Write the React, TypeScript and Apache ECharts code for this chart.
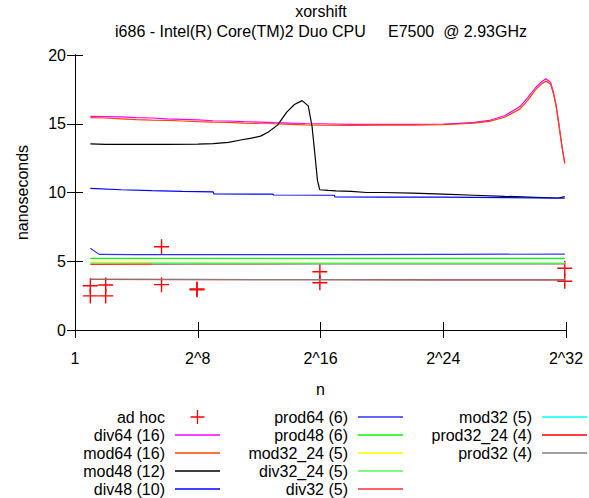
import React, { useEffect, useRef } from "react";
import * as echarts from "echarts";

const FONT = "'Liberation Sans', Arial, Helvetica, sans-serif";

const titleText = "xorshift";
const subtitleText = "i686 - Intel(R) Core(TM)2 Duo CPU     E7500  @ 2.93GHz";
const xTickExponents = [0, 8, 16, 24, 32];
const yTicks = [0, 5, 10, 15, 20];

// x values are log2(n)
const adHoc: number[][] = [
  [1, 3.22], [1, 2.48], [2, 3.27], [2, 2.48], [5.64, 6.06], [5.64, 3.3],
  [7.95, 2.98], [7.95, 2.92], [15.96, 4.24], [15.96, 3.44], [31.92, 4.49], [31.92, 3.54],
];
const div64: number[][] = [
  [1, 15.54], [2, 15.52], [3, 15.5], [4, 15.45], [5, 15.42], [6, 15.36], [7, 15.32], [8, 15.28],
  [9, 15.22], [10, 15.2], [11, 15.15], [12, 15.12], [13, 15.08], [14, 15.05], [15, 15.02], [16, 15.0],
  [18, 14.96], [20, 14.95], [22, 14.96], [24, 14.98], [25, 15.03], [26, 15.1], [27, 15.24], [28, 15.58],
  [29, 16.25], [29.5, 16.9], [30, 17.6], [30.4, 18.05], [30.7, 18.27], [31.0, 18.0], [31.2, 17.2],
  [31.35, 16.4], [31.53, 15.05], [31.74, 13.35], [31.92, 12.15],
];
const mod64: number[][] = [
  [1, 15.45], [2, 15.42], [3, 15.36], [4, 15.3], [5, 15.26], [6, 15.24], [7, 15.2], [8, 15.15],
  [9, 15.12], [10, 15.1], [11, 15.05], [12, 15.02], [13, 15.0], [14, 14.95], [15, 14.92], [16, 14.9],
  [18, 14.88], [20, 14.9], [22, 14.9], [24, 14.94], [25, 14.98], [26, 15.04], [27, 15.17], [28, 15.47],
  [29, 16.08], [29.5, 16.7], [30, 17.45], [30.4, 17.9], [30.7, 18.1], [31.0, 17.88], [31.2, 17.1],
  [31.35, 16.3], [31.53, 14.95], [31.74, 13.3], [31.92, 12.1],
];
const mod48: number[][] = [
  [1, 13.53], [2, 13.5], [4, 13.5], [6, 13.5], [8, 13.52], [9, 13.55], [10, 13.65], [10.8, 13.82],
  [11.5, 13.95], [12.1, 14.1], [12.6, 14.4], [13.2, 14.9], [13.8, 15.85], [14.3, 16.4], [14.8, 16.68],
  [15.2, 16.3], [15.45, 14.8], [15.65, 12.6], [15.8, 10.9], [15.95, 10.2], [16.5, 10.15], [17, 10.12],
  [18, 10.08], [19, 10.0], [20, 10.0], [22, 9.95], [24, 9.88], [26, 9.8], [28, 9.72], [30, 9.65],
  [31.5, 9.6], [31.92, 9.7],
];
const div48: number[][] = [
  [1, 10.3], [3, 10.2], [5, 10.13], [7, 10.08], [9, 10.05], [9.05, 9.9], [12.9, 9.88], [12.95, 9.82],
  [16.9, 9.8], [16.95, 9.68], [20, 9.67], [24, 9.66], [28, 9.63], [31.92, 9.58],
];
const prod64: number[][] = [
  [1, 5.94], [1.58, 5.5], [4, 5.48], [8, 5.48], [16, 5.48], [24, 5.5], [31.92, 5.52],
];
const prod48: number[][] = [[1, 5.21], [8, 5.21], [16, 5.21], [24, 5.21], [31.92, 5.21]];
const mod32_24: number[][] = [[1, 4.93], [8, 4.92], [16, 4.91], [24, 4.9], [31.92, 4.9]];
const div32_24: number[][] = [[1, 4.87], [8, 4.86], [16, 4.85], [24, 4.85], [31.92, 4.84]];
const div32: number[][] = [[1, 4.78], [8, 4.79], [16, 4.8], [24, 4.8], [31.92, 4.8]];
const mod32: number[][] = [[5, 4.82], [8, 4.82], [16, 4.82], [24, 4.82], [31.92, 4.82]];
const prod32_24: number[][] = [[1, 3.68], [8, 3.67], [16, 3.66], [24, 3.65], [31.92, 3.65]];
const prod32: number[][] = [[1, 3.69], [8, 3.68], [16, 3.66], [24, 3.65], [31.92, 3.64]];

const CROSS = "path://M0,7.25h16v1.5h-16z M7.25,0h1.5v16h-1.5z";
const LINE_ICON = "path://M0,0H45V1.3H0Z";

function lineSeries(name: string, color: string, data: number[][], width = 1.2) {
  return {
    type: "line",
    name,
    data,
    symbol: "none",
    showSymbol: false,
    lineStyle: { color, width },
    itemStyle: { color },
    emphasis: { disabled: true },
  };
}

const li = (name: string) => ({ name, icon: LINE_ICON });

export default function App() {
  const ref = useRef<HTMLDivElement>(null);
  useEffect(() => {
    if (!ref.current) return;
    const chart = echarts.init(ref.current, null, { renderer: "svg" });
    const axisLine = { show: true, lineStyle: { color: "#000", width: 1 } };
    const label = { fontSize: 16, color: "#000", fontFamily: FONT };
    const legendBase = {
      orient: "vertical",
      align: "right",
      top: 409,
      padding: 0,
      itemWidth: 45,
      itemHeight: 14,
      itemGap: 2,
      selectedMode: false,
      symbolKeepAspect: true,
      textStyle: { fontSize: 16, color: "#000", fontFamily: FONT, padding: [0, 5, 0, 0] },
    };
    const option = {
      animation: false,
      backgroundColor: "#fff",
      textStyle: { fontFamily: FONT },
      graphic: [
        { type: "text", x: 321, y: 11, style: { text: titleText, font: `16px ${FONT}`, fill: "#000", align: "center", verticalAlign: "middle" } },
        { type: "text", x: 321, y: 31, style: { text: subtitleText, font: `16px ${FONT}`, fill: "#000", align: "center", verticalAlign: "middle" } },
      ],
      grid: { left: 75, right: 23, top: 55, bottom: 168, containLabel: false },
      xAxis: [
        {
          type: "value", min: 0, max: 32, interval: 8, position: "bottom",
          axisLine, axisTick: { show: true, inside: false, length: 8, lineStyle: { color: "#000" } },
          splitLine: { show: false },
          axisLabel: { ...label, margin: 20, showMinLabel: true, showMaxLabel: true,
            formatter: (v: number) => (xTickExponents.includes(v) ? (v === 0 ? "1" : "2^" + v) : "") },
          name: "n", nameLocation: "middle", nameGap: 51, nameTextStyle: label,
        },
        {
          type: "value", min: 0, max: 32, interval: 8, position: "top",
          axisLine, axisTick: { show: true, inside: false, length: 8, lineStyle: { color: "#000" } },
          splitLine: { show: false }, axisLabel: { show: false },
        },
      ],
      yAxis: [
        {
          type: "value", min: yTicks[0], max: yTicks[yTicks.length - 1], interval: 5, position: "left",
          axisLine, axisTick: { show: true, inside: true, length: 8, lineStyle: { color: "#000" } },
          splitLine: { show: false },
          axisLabel: { ...label, margin: 9 },
          name: "nanoseconds", nameLocation: "middle", nameRotate: 90, nameGap: 45, nameTextStyle: label,
        },
        {
          type: "value", min: 0, max: 20, interval: 5, position: "right",
          axisLine, axisTick: { show: true, inside: true, length: 8, lineStyle: { color: "#000" } },
          splitLine: { show: false }, axisLabel: { show: false },
        },
      ],
      legend: [
        { ...legendBase, right: 369, data: [{ name: "ad hoc", icon: CROSS }, li("div64 (16)"), li("mod64 (16)"), li("mod48 (12)"), li("div48 (10)")] },
        { ...legendBase, right: 186, data: [li("prod64 (6)"), li("prod48 (6)"), li("mod32_24 (5)"), li("div32_24 (5)"), li("div32 (5)")] },
        { ...legendBase, right: 2, data: [li("mod32 (5)"), li("prod32_24 (4)"), li("prod32 (4)")] },
      ],
      series: [
        {
          type: "scatter", name: "ad hoc", data: adHoc, symbol: CROSS, symbolSize: 15, symbolKeepAspect: true,
          itemStyle: { color: "#ff0000", opacity: 1 }, emphasis: { disabled: true },
        },
        lineSeries("div64 (16)", "#ff00ff", div64),
        lineSeries("mod64 (16)", "#ff4500", mod64),
        lineSeries("mod48 (12)", "#000000", mod48),
        lineSeries("div48 (10)", "#0000ff", div48),
        lineSeries("prod64 (6)", "#3030ff", prod64),
        lineSeries("prod48 (6)", "#00ff00", prod48),
        lineSeries("mod32_24 (5)", "#ffff00", mod32_24),
        lineSeries("div32_24 (5)", "#55ff55", div32_24),
        lineSeries("div32 (5)", "#ff3030", div32),
        lineSeries("mod32 (5)", "#00ffff", mod32),
        lineSeries("prod32_24 (4)", "#ff0000", prod32_24),
        lineSeries("prod32 (4)", "#808080", prod32),
      ],
    };
    chart.setOption(option as any);
    return () => chart.dispose();
  }, []);
  return <div ref={ref} style={{ position: "fixed", left: 0, top: 0, width: 589, height: 498 }} />;
}
